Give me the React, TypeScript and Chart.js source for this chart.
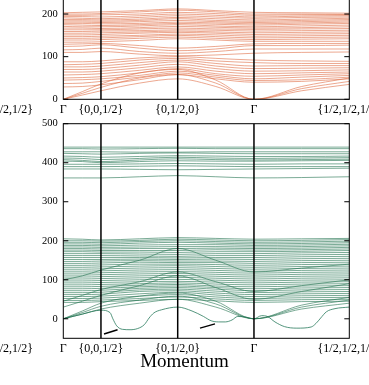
import React, { useEffect, useRef } from 'react';
import { Chart, registerables } from 'chart.js';

Chart.register(...registerables);

// k-path sample positions: Γ, ., {0,0,1/2}, ., {0,1/2,0}, ., Γ, ., {1/2,1/2,1/2}
const K_POS = [0, 0.2, 0.395, 0.8, 1.2, 1.6, 2.0, 2.5, 3.0];
const SYM_LINES = [0.395, 1.2, 2.0];
const K_LABEL_POS = [-0.65, 0, 0.395, 1.2, 2.0, 3.0];
const K_LABELS = ['{1/2,1/2,1/2}', 'Γ', '{0,0,1/2}', '{0,1/2,0}', 'Γ', '{1/2,1/2,1/2}'];

const TOP_TICKS = [0, 100, 200];
const BOTTOM_TICKS = [0, 100, 200, 300, 400, 500];
const X_TITLE = 'Momentum';

// Top panel bands (values at K_POS)
const TOP_BANDS: number[][] = [
  [203, 204, 205, 208, 212, 208, 204, 203, 202],
  [200, 200, 201, 205, 209, 205, 200, 200, 199],
  [197, 197, 198, 200, 204, 201, 197, 198, 198],
  [194, 194, 193, 196, 200, 197, 193, 195, 196],
  [191, 190, 189, 192, 196, 193, 190, 192, 193],
  [187, 187, 186, 188, 192, 189, 186, 188, 190],
  [184, 184, 183, 185, 189, 185, 183, 185, 187],
  [181, 181, 180, 182, 185, 182, 180, 182, 184],
  [178, 178, 177, 178, 181, 179, 177, 179, 181],
  [175, 174, 173, 175, 178, 176, 174, 176, 178],
  [171, 170, 170, 172, 175, 172, 170, 172, 174],
  [167, 167, 166, 168, 171, 169, 167, 168, 170],
  [163, 163, 163, 165, 167, 165, 164, 165, 166],
  [159, 159, 160, 161, 163, 162, 160, 161, 162],
  [155, 155, 156, 158, 160, 158, 156, 157, 158],
  [151, 151, 152, 155, 157, 155, 152, 153, 154],
  [147, 147, 148, 150, 153, 151, 148, 149, 150],
  [143, 143, 144, 147, 150, 147, 144, 145, 146],
  [139, 139, 140, 143, 146, 143, 140, 141, 142],
  [134, 134, 135, 138, 142, 139, 136, 136, 136],
  [129, 130, 131, 126, 120, 124, 130, 131, 131],
  [124, 125, 128, 120, 114, 118, 126, 126, 127],
  [116, 117, 120, 112, 108, 112, 118, 118, 118],
  [110, 110, 112, 106, 102, 104, 108, 110, 111],
  [88, 88, 90, 97, 100, 96, 92, 90, 89],
  [81, 82, 84, 92, 96, 90, 86, 84, 84],
  [76, 76, 78, 86, 92, 84, 78, 79, 79],
  [70, 70, 72, 80, 88, 78, 72, 73, 74],
  [64, 64, 66, 74, 82, 72, 66, 67, 69],
  [57, 58, 60, 68, 76, 66, 60, 62, 64],
  [50, 51, 53, 62, 72, 60, 54, 57, 60],
  [45, 46, 48, 56, 66, 56, 48, 52, 56],
  [37, 38, 42, 52, 62, 52, 44, 46, 52],
  [29, 30, 34, 46, 58, 48, 40, 42, 48],
  [0, 14, 28, 50, 58, 38, 0, 25, 42],
  [0, 18, 36, 62, 70, 45, 0, 30, 50],
  [0, 10, 20, 38, 48, 30, 0, 20, 35],
];

// Bottom panel bands (values at K_POS)
const BOTTOM_BANDS: number[][] = [
  [440, 440, 440, 440, 440, 440, 440, 440, 440],
  [436, 436, 435, 436, 437, 436, 436, 436, 436],
  [428, 428, 428, 427, 427, 428, 428, 428, 428],
  [424, 423, 422, 424, 425, 424, 423, 423, 423],
  [417, 416, 414, 416, 418, 417, 416, 416, 417],
  [412, 411, 408, 411, 414, 412, 411, 412, 413],
  [408, 406, 403, 407, 410, 408, 407, 408, 409],
  [404, 403, 400, 403, 405, 404, 404, 405, 406],
  [396, 396, 396, 397, 398, 397, 396, 397, 397],
  [390, 390, 390, 391, 392, 391, 390, 390, 390],
  [384, 384, 384, 383, 382, 383, 384, 385, 386],
  [361, 361, 361, 364, 367, 364, 361, 362, 364],
  [205, 204, 202, 205, 208, 206, 204, 205, 206],
  [200, 200, 199, 201, 204, 202, 200, 201, 203],
  [196, 196, 195, 198, 200, 198, 196, 197, 199],
  [192, 192, 191, 194, 196, 194, 192, 193, 195],
  [188, 188, 187, 189, 190, 190, 188, 189, 191],
  [184, 184, 183, 184, 185, 185, 184, 185, 187],
  [180, 180, 179, 180, 180, 181, 180, 181, 183],
  [176, 176, 175, 175, 175, 177, 176, 177, 179],
  [172, 172, 171, 171, 170, 172, 172, 173, 175],
  [167, 167, 167, 166, 165, 167, 167, 169, 170],
  [162, 162, 162, 161, 160, 162, 162, 164, 165],
  [157, 157, 157, 157, 156, 157, 157, 159, 160],
  [152, 152, 152, 153, 152, 153, 152, 154, 155],
  [147, 147, 148, 149, 148, 148, 147, 149, 150],
  [142, 142, 143, 145, 144, 144, 142, 144, 145],
  [137, 137, 138, 140, 140, 139, 137, 139, 140],
  [132, 132, 133, 135, 136, 134, 132, 134, 135],
  [127, 127, 128, 130, 131, 129, 127, 129, 130],
  [122, 122, 123, 125, 126, 124, 122, 124, 125],
  [117, 117, 118, 120, 121, 119, 117, 119, 120],
  [112, 112, 113, 115, 116, 114, 112, 114, 115],
  [107, 107, 108, 110, 111, 109, 107, 109, 110],
  [102, 102, 103, 105, 106, 104, 102, 104, 105],
  [97, 97, 98, 100, 101, 99, 97, 99, 100],
  [92, 92, 93, 95, 96, 94, 92, 94, 95],
  [87, 87, 88, 90, 92, 89, 87, 89, 90],
  [82, 82, 83, 86, 88, 84, 82, 84, 85],
  [77, 77, 78, 82, 84, 80, 77, 79, 80],
  [72, 72, 73, 78, 80, 76, 72, 74, 75],
  [67, 67, 68, 74, 76, 71, 67, 69, 70],
  [62, 62, 63, 70, 72, 66, 62, 64, 65],
  [57, 57, 58, 64, 68, 61, 57, 59, 60],
  [52, 52, 53, 58, 62, 56, 52, 54, 55],
  [47, 47, 48, 52, 56, 51, 47, 49, 50],
  [42, 42, 44, 47, 50, 46, 42, 44, 45],
  [30, 45, 60, 85, 110, 80, 50, 70, 90],
  [45, 60, 75, 95, 120, 95, 70, 85, 100],
  [100, 110, 125, 150, 180, 150, 120, 130, 140],
  [0, 12, 25, 40, 50, 30, 0, 25, 40],
  [0, 16, 32, 48, 58, 38, 0, 30, 48],
  [0, 20, 40, 58, 66, 45, 0, 35, 55],
];

// Soft (unstable) mode of bottom panel
const SOFT_X = [0, 0.2, 0.395, 0.49, 0.52, 0.56, 0.62, 0.7, 0.78, 0.85, 0.9, 0.95, 1.03, 1.2,
  1.35, 1.47, 1.55, 1.63, 1.7, 1.77, 1.83, 1.92, 2.0, 2.08, 2.14, 2.22, 2.32, 2.45, 2.6, 2.65, 2.7, 2.76, 2.85, 3.0];
const SOFT_Y = [0, 12, 22, 16, 0, -18, -27, -28, -25, -15, 2, 15, 23, 30,
  20, 6, -5, -8, -8, -3, 6, 4, 0, 8, 6, -8, -20, -24, -21, -12, 2, 18, 26, 30];

// Black marker segments
const MARK_A_X = [0.427, 0.569];
const MARK_A_Y = [-39, -28];
const MARK_B_X = [1.434, 1.591];
const MARK_B_Y = [-24, -13];

const FONT = '"Liberation Serif", "Times New Roman", serif';

const framePlugin = {
  id: 'frame',
  afterDatasetsDraw(chart: any, _args: any, opts: any) {
    const { ctx, chartArea: a, scales } = chart;
    const x = scales.x;
    const y = scales.y;
    ctx.save();
    ctx.strokeStyle = '#000';
    ctx.lineWidth = 1;
    ctx.strokeRect(a.left, a.top, a.right - a.left, a.bottom - a.top);
    ctx.lineWidth = 1.5;
    SYM_LINES.forEach((v) => {
      const px = x.getPixelForValue(v);
      ctx.beginPath();
      ctx.moveTo(px, a.top);
      ctx.lineTo(px, a.bottom);
      ctx.stroke();
    });
    ctx.lineWidth = 1;
    y.ticks.forEach((t: any) => {
      const py = y.getPixelForValue(t.value);
      ctx.beginPath();
      ctx.moveTo(a.left, py);
      ctx.lineTo(a.left + 5, py);
      ctx.moveTo(a.right - 5, py);
      ctx.lineTo(a.right, py);
      ctx.stroke();
    });
    ctx.fillStyle = '#000';
    ctx.font = '12px ' + FONT;
    ctx.textAlign = 'center';
    ctx.textBaseline = 'middle';
    K_LABELS.forEach((l, i) => {
      ctx.fillText(l, x.getPixelForValue(K_LABEL_POS[i]), a.bottom + 10.5);
    });
    if (opts && opts.title) {
      ctx.font = '19px ' + FONT;
      ctx.textBaseline = 'alphabetic';
      ctx.fillText(opts.title, chart.width / 2, a.bottom + opts.titleOffset);
    }
    ctx.restore();
  },
};

type PanelProps = {
  top: number;
  height: number;
  pad: { top: number; bottom: number; right: number; left: number };
  yMin: number;
  yMax: number;
  ticks: number[];
  datasets: any[];
  title?: string;
  titleOffset?: number;
};

function Panel(p: PanelProps) {
  const ref = useRef<HTMLCanvasElement | null>(null);
  useEffect(() => {
    if (!ref.current) return;
    const chart = new Chart(ref.current, {
      type: 'line',
      data: { datasets: p.datasets },
      options: {
        responsive: false,
        animation: false,
        devicePixelRatio: 1,
        layout: { padding: p.pad },
        events: [],
        elements: { point: { radius: 0 } },
        plugins: {
          legend: { display: false },
          tooltip: { enabled: false },
          // @ts-ignore
          frame: { title: p.title, titleOffset: p.titleOffset },
        },
        scales: {
          x: { type: 'linear', min: 0, max: 3, display: false },
          y: {
            type: 'linear',
            min: p.yMin,
            max: p.yMax,
            afterBuildTicks: (s: any) => {
              s.ticks = p.ticks.map((v) => ({ value: v }));
            },
            afterFit: (s: any) => {
              s.width = 63.3;
            },
            grid: { display: false, drawTicks: false },
            border: { display: false },
            ticks: { color: '#000', padding: 5.5, font: { family: FONT, size: 10.5 } },
          },
        },
      } as any,
      plugins: [framePlugin],
    });
    return () => chart.destroy();
  }, []);
  return (
    <canvas
      ref={ref}
      width={369}
      height={p.height}
      style={{ position: 'absolute', left: 0, top: p.top, width: 369, height: p.height }}
    />
  );
}

const bandSets = (bands: number[][], color: string) =>
  bands.map((b) => ({
    data: K_POS.map((x, i) => ({ x, y: b[i] })),
    borderColor: color,
    borderWidth: 1,
    pointRadius: 0,
    fill: false,
    cubicInterpolationMode: 'monotone',
  }));

const segSet = (xs: number[], ys: number[], color: string, w: number, smooth: boolean) => ({
  data: xs.map((x, i) => ({ x, y: ys[i] })),
  borderColor: color,
  borderWidth: w,
  pointRadius: 0,
  fill: false,
  cubicInterpolationMode: smooth ? 'monotone' : 'default',
  tension: 0,
});

export default function App() {
  const topSets = bandSets(TOP_BANDS, 'rgba(224,110,70,0.6)');
  const bottomSets = [
    ...bandSets(BOTTOM_BANDS, 'rgba(35,115,80,0.6)'),
    segSet(SOFT_X, SOFT_Y, 'rgba(45,125,95,0.9)', 0.9, true),
    segSet(MARK_A_X, MARK_A_Y, '#000', 1.4, false),
    segSet(MARK_B_X, MARK_B_Y, '#000', 1.4, false),
  ];
  return (
    <div>
      <Panel
        top={-20}
        height={145}
        pad={{ top: 12.7, bottom: 25.7, right: 19.7, left: 0 }}
        yMin={0}
        yMax={250}
        ticks={TOP_TICKS}
        datasets={topSets}
      />
      <Panel
        top={110}
        height={275}
        pad={{ top: 13.7, bottom: 46.7, right: 19.7, left: 0 }}
        yMin={-50}
        yMax={500}
        ticks={BOTTOM_TICKS}
        datasets={bottomSets}
        title={X_TITLE}
        titleOffset={28.7}
      />
    </div>
  );
}
